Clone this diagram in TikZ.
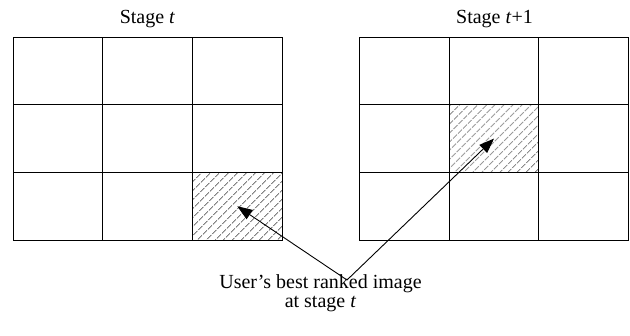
\documentclass[tikz,border=0pt]{standalone}
\usepackage{fontspec}
\setmainfont{Liberation Serif}
\usetikzlibrary{arrows.meta,patterns.meta}

\begin{document}
\begin{tikzpicture}[x=1pt, y=-1pt,
        cell/.style={draw, rectangle, inner sep=0pt, minimum width=89.7pt, minimum height=67.7pt, line width=0.9pt},
        best/.style={cell, pattern={Lines[angle=45, distance=6.4pt, line width=0.8pt]}, pattern color=black!75},
        pointer/.style={-{Triangle[length=15pt, width=11pt]}, line width=0.9pt},
        caption/.style={font=\fontsize{20}{19}\selectfont, align=center, inner sep=0pt}
    ]
        \useasboundingbox (0,0) rectangle (630,336);

        % the two 3x3 grids
        \foreach \r in {1,2,3}{
            \foreach \c in {1,2,3}{
                \node[cell] (L\r\c) at ({13+89.7*(\c-0.5)}, {37+67.7*(\r-0.5)}) {};
                \node[cell] (R\r\c) at ({359.5+89.7*(\c-0.5)}, {37+67.7*(\r-0.5)}) {};
            }
        }
        \node[best] (bestL) at (L33) {};
        \node[best] (bestR) at (R22) {};

        \node[caption, anchor=base] (stageL) at (147.5,24) {Stage \textit{t}};
        \node[caption, anchor=base] (stageR) at (494.5,24) {Stage \textit{t}+1};
        \node[caption, anchor=base] (note) at (320.5,307.5) {User’s best ranked image\\at stage \textit{t}};

        \coordinate (apex) at (347,280);
        \draw[pointer] (apex) -- (bestL.center);
        \draw[pointer] (apex) -- (bestR.center);
    \end{tikzpicture}
\end{document}
